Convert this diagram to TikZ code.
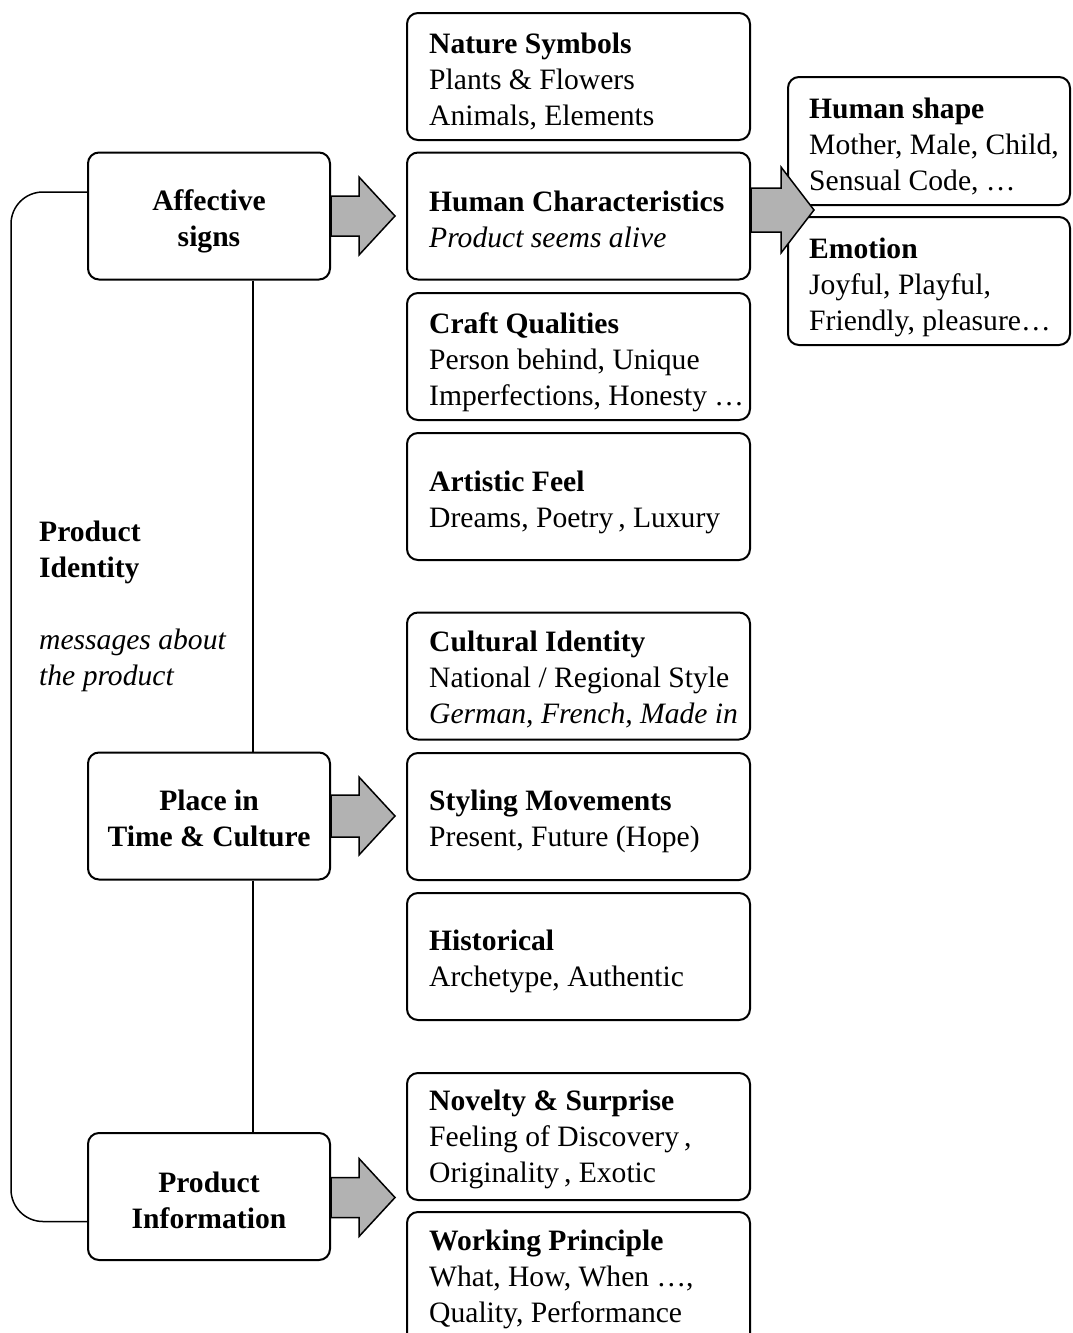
\documentclass[tikz,border=0pt]{standalone}
\usepackage{fontspec}
\setmainfont{Liberation Serif}
\newcommand\fs{\fontsize{29.6pt}{36pt}\selectfont}
\definecolor{arrowgray}{RGB}{178,178,178}
\newcommand\blockarr[6]{%
  \draw[barrow] ([yshift=#2pt]#1) ++(0pt,#3pt) -- ++(#5pt,0pt) -- ++(0pt,#4pt-#3pt)
    -- ++(#6pt,-#4pt) -- ++(-#6pt,-#4pt) -- ++(0pt,#4pt-#3pt) -- ++(-#5pt,0pt) -- cycle;}
\begin{document}
\begin{tikzpicture}[x=1pt,y=-1pt,
  box/.style={draw, line width=2pt, rounded corners=11pt, inner sep=0pt, fill=white},
  lbox/.style={box, minimum width=242pt, minimum height=127pt},
  ltxt/.style={inner sep=0pt, font=\fs\bfseries, align=center},
  mbox/.style={box, minimum width=343pt, minimum height=127pt},
  rbox/.style={box, minimum width=282pt, minimum height=128pt},
  txt/.style={anchor=west, align=left, inner sep=0pt, font=\fs},
  conn/.style={line width=1.5pt},
  barrow/.style={draw, line width=1.5pt, fill=arrowgray, line join=miter}]
\useasboundingbox (0,0) rectangle (1072,1333);
\clip (0,0) rectangle (1072,1333);

% left boxes
\node[lbox] (aff) at (209,216) {};
\node[ltxt] (afft) at ([yshift=-5pt]aff.center) {Affective\\signs};
\node[lbox] (place) at (209,816) {};
\node[ltxt] (placet) at ([yshift=-2pt]place.center) {Place in\\Time \& Culture};
\node[lbox] (pinfo) at (209,1196.5) {};
\node[ltxt] (pinfot) at ([yshift=-4pt]pinfo.center) {Product\\Information};

% connectors on the left
\draw[conn] ([xshift=44pt]aff.south) -- ([xshift=44pt]place.north);
\draw[conn] ([xshift=44pt]place.south) -- ([xshift=44pt]pinfo.north);
\draw[conn, rounded corners=32pt] ([yshift=24pt]aff.west) -- ++(-76pt,0pt) |- ([yshift=-25pt]pinfo.west);

\node[txt] (pid) at (39,606) {\textbf{Product}\\\textbf{Identity}\\[36pt]\textit{messages about}\\\textit{the product}};

% middle boxes
\node[mbox] (ns) at (578.5,76.5) {};
\node[txt] (nst) at ([xshift=23pt,yshift=-5pt]ns.west) {\textbf{Nature Symbols}\\Plants \& Flowers\\Animals, Elements};
\node[mbox] (hc) at (578.5,216) {};
\node[txt] (hct) at ([xshift=23pt,yshift=-3pt]hc.west) {\textbf{Human Characteristics}\\\textit{Product seems alive}};
\node[mbox] (cq) at (578.5,356.5) {};
\node[txt] (cqt) at ([xshift=23pt,yshift=-6pt]cq.west) {\textbf{Craft Qualities}\\Person behind, Unique\\Imperfections, Honesty …};
\node[mbox] (af) at (578.5,496.5) {};
\node[txt] (aft) at ([xshift=23pt,yshift=-6pt]af.west) {\textbf{Artistic Feel}\\Dreams, Poetry\,, Luxury};
\node[mbox] (ci) at (578.5,676) {};
\node[txt] (cit) at ([xshift=23pt,yshift=-3pt]ci.west) {\textbf{Cultural Identity}\\National / Regional Style\\\textit{German, French, Made in}};
\node[mbox] (sm) at (578.5,816.5) {};
\node[txt] (smt) at ([xshift=23pt,yshift=-5pt]sm.west) {\textbf{Styling Movements}\\Present, Future (Hope)};
\node[mbox] (hi) at (578.5,956.5) {};
\node[txt] (hit) at ([xshift=23pt,yshift=-5pt]hi.west) {\textbf{Historical}\\Archetype, Authentic};
\node[mbox] (nv) at (578.5,1136.5) {};
\node[txt] (nvt) at ([xshift=23pt,yshift=-3pt]nv.west) {\textbf{Novelty \& Surprise}\\Feeling of Discovery\,,\\Originality\,, Exotic};
\node[mbox, minimum height=136pt] (wp) at (578.5,1280) {};
\node[txt] (wpt) at ([xshift=23pt,yshift=1pt]wp.west) {\textbf{Working Principle}\\What, How, When …,\\Quality, Performance};

% right boxes
\node[rbox] (hs) at (929,141) {};
\node[txt] (hst) at ([xshift=22pt,yshift=-6pt]hs.west) {\textbf{Human shape}\\Mother, Male, Child,\\Sensual Code, …};
\node[rbox] (em) at (929,281) {};
\node[txt] (emt) at ([xshift=22pt,yshift=-6pt]em.west) {\textbf{Emotion}\\Joyful, Playful,\\Friendly, pleasure…};

% block arrows
\blockarr{aff.east}{0}{20}{39}{28}{36}
\blockarr{place.east}{0}{21}{39}{28}{36}
\blockarr{pinfo.east}{-1}{20}{39}{28}{36}
\blockarr{hc.east}{6}{22}{43}{30}{33}
\end{tikzpicture}
\end{document}
